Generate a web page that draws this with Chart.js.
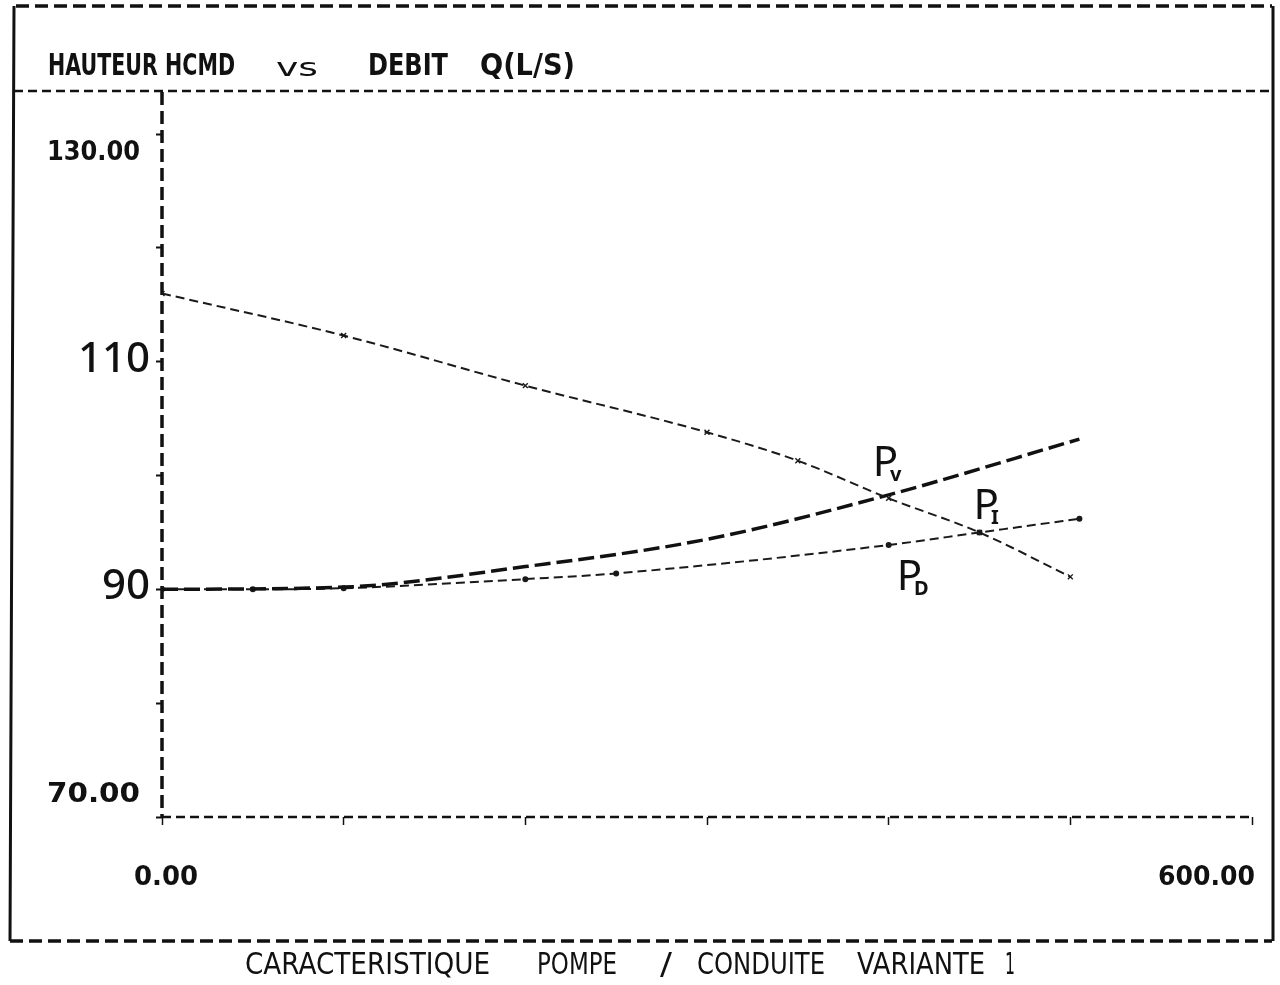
<!DOCTYPE html>
<html>
<head>
<meta charset="utf-8">
<script src="https://cdn.jsdelivr.net/npm/chart.js@4/dist/chart.umd.min.js"></script>
<style>
  html, body { margin: 0; padding: 0; background: #fff; }
  #wrap { width: 1280px; height: 985px; position: relative; }
</style>
</head>
<body>
<div id="wrap"><canvas id="myChart" width="1280" height="985"></canvas></div>
<script>
// debit Q (L/s) and hauteur HMT (m)
const flowPump = [0, 100, 200, 300, 350, 400, 450, 500]
const headPump = [116.0, 112.3, 107.9, 103.8, 101.3, 98.0, 95.0, 91.1]

const flowPv = [0, 100, 200, 300, 400, 505]
const headPv = [90.0, 90.2, 92.0, 94.4, 98.3, 103.2]

const flowPd = [0, 50, 100, 200, 250, 400, 450, 505]
const headPd = [90.0, 90.0, 90.1, 90.9, 91.4, 93.9, 95.0, 96.2]

const xTicks = [0, 100, 200, 300, 400, 500, 600]
const yTicks = [70, 80, 90, 100, 110, 120, 130]
const xLabels = [{ v: 0, text: '0.00' }, { v: 600, text: '600.00' }]
const yLabels = [
  { v: 130, text: '130.00', hand: false },
  { v: 110, text: '110', hand: true },
  { v: 90, text: '90', hand: true },
  { v: 70, text: '70.00', hand: false }
]
const pointLabels = [
  { x: 400, y: 98.3, main: 'P', sub: 'v' },
  { x: 450, y: 95.0, main: 'P', sub: 'I' },
  { x: 400, y: 93.9, main: 'P', sub: 'D' }
]

const titleParts = [['HAUTEUR HCMD', 48, 235], ['vs', 276, 318], ['DEBIT', 368, 448], ['Q(L/S)', 480, 575]]
const captionParts = [['CARACTERISTIQUE', 245, 490], ['POMPE', 537, 617], ['/', 660, 672], ['CONDUITE', 697, 825], ['VARIANTE', 857, 985], ['1', 1005, 1015]]

const pts = (xs, ys) => xs.map((x, i) => ({ x: x, y: ys[i] }))

const PRINT = '"Liberation Sans Narrow", "DejaVu Sans Condensed", sans-serif'
const HAND = '"Noto Sans", "DejaVu Sans", sans-serif'

// draws a word stretched to fit between x0 and x1
function fitText(ctx, txt, x0, x1, yc, size, weight) {
  ctx.save()
  ctx.font = (weight || 'normal') + ' ' + size + 'px ' + PRINT
  const w = ctx.measureText(txt).width
  ctx.translate(x0, yc)
  ctx.scale((x1 - x0) / w, 1)
  ctx.textAlign = 'left'
  ctx.textBaseline = 'middle'
  ctx.fillText(txt, 0, 0)
  ctx.restore()
}

const framePlugin = {
  id: 'frame',
  beforeDraw(chart) {
    const ctx = chart.ctx
    ctx.save()
    ctx.strokeStyle = '#111'
    // solid sides
    ctx.lineWidth = 3
    ctx.beginPath()
    ctx.moveTo(14, 6)
    ctx.lineTo(10, 941)
    ctx.moveTo(1273, 6)
    ctx.lineTo(1273, 941)
    ctx.stroke()
    // dashed top, bottom and title separator
    ctx.lineWidth = 3.5
    ctx.setLineDash([13, 6])
    ctx.beginPath()
    ctx.moveTo(16, 6)
    ctx.lineTo(1272, 6)
    ctx.moveTo(10, 941)
    ctx.lineTo(1272, 941)
    ctx.stroke()
    ctx.lineWidth = 2.5
    ctx.setLineDash([9, 5])
    ctx.beginPath()
    ctx.moveTo(14, 91)
    ctx.lineTo(1272, 91)
    ctx.stroke()

    // dashed axis lines
    const xs = chart.scales.x
    const ys = chart.scales.y
    ctx.lineWidth = 2.5
    ctx.setLineDash([9, 5])
    ctx.beginPath()
    ctx.moveTo(xs.left, ys.bottom)
    ctx.lineTo(xs.right, ys.bottom)
    ctx.stroke()
    ctx.lineWidth = 3.5
    ctx.setLineDash([13, 6])
    ctx.beginPath()
    ctx.moveTo(xs.left, ys.top)
    ctx.lineTo(xs.left, ys.bottom)
    ctx.stroke()
    ctx.restore()
  },
  afterDraw(chart) {
    const ctx = chart.ctx
    const xs = chart.scales.x
    const ys = chart.scales.y
    ctx.save()
    ctx.fillStyle = '#111'
    titleParts.forEach(p => {
      if (p[0] === 'vs') fitText(ctx, p[0], p[1], p[2], 70, 24, 'normal')
      else fitText(ctx, p[0], p[1], p[2], 67, 30, 'bold')
    })
    captionParts.forEach(p => fitText(ctx, p[0], p[1], p[2], 966, 30))

    // x tick labels
    xLabels.forEach((l, i) => {
      const px = xs.getPixelForValue(l.v)
      if (i === 0) fitText(ctx, l.text, px - 28, px + 36, 878, 26, 'bold')
      else fitText(ctx, l.text, px - 94, px + 3, 878, 26, 'bold')
    })

    // y tick labels
    yLabels.forEach(l => {
      const py = ys.getPixelForValue(l.v)
      if (l.hand) {
        ctx.font = '500 42px ' + HAND
        ctx.textAlign = 'right'
        ctx.textBaseline = 'middle'
        ctx.fillText(l.text, ys.left - 6, py - 2)
      } else {
        const dy = l.v > 100 ? 19 : -22
        fitText(ctx, l.text, 47, 140, py + dy, 26, 'bold')
      }
    })

    // operating point labels
    pointLabels.forEach(l => {
      const px = xs.getPixelForValue(l.x)
      const py = ys.getPixelForValue(l.y)
      let ox, oy
      if (l.sub === 'v') { ox = -16; oy = -52 }
      else if (l.sub === 'I') { ox = -6; oy = -46 }
      else { ox = 8; oy = 12 }
      ctx.font = '42px ' + HAND
      ctx.textAlign = 'left'
      ctx.textBaseline = 'top'
      ctx.fillText(l.main, px + ox, py + oy)
      const w = ctx.measureText(l.main).width
      ctx.font = 'bold 20px ' + HAND
      ctx.fillText(l.sub, px + ox + w - 8, py + oy + 22)
    })
    ctx.restore()
  }
}

const ctx = document.getElementById('myChart')
const myChart = new Chart(ctx, {
  type: 'line',
  data: {
    datasets: [
      {
        label: 'Pompe',
        data: pts(flowPump, headPump),
        borderColor: '#1a1a1a',
        borderWidth: 2,
        borderDash: [9, 5],
        pointStyle: 'crossRot',
        pointRadius: 3.5,
        pointBorderWidth: 1.4,
        pointBorderColor: '#1a1a1a',
        cubicInterpolationMode: 'monotone',
        fill: false
      },
      {
        label: 'Conduite Pv',
        data: pts(flowPv, headPv),
        borderColor: '#111',
        borderWidth: 3.5,
        borderDash: [16, 6],
        pointRadius: 0,
        cubicInterpolationMode: 'monotone',
        fill: false
      },
      {
        label: 'Conduite Pd',
        data: pts(flowPd, headPd),
        borderColor: '#1a1a1a',
        borderWidth: 2,
        borderDash: [9, 5],
        pointRadius: 2,
        pointBackgroundColor: '#1a1a1a',
        pointBorderColor: '#1a1a1a',
        cubicInterpolationMode: 'monotone',
        fill: false
      }
    ]
  },
  options: {
    responsive: false,
    animation: false,
    layout: { padding: { left: 156, top: 92, right: 28, bottom: 160 } },
    plugins: { legend: { display: false }, tooltip: { enabled: false } },
    scales: {
      x: {
        type: 'linear',
        min: 0,
        max: 600,
        afterBuildTicks: axis => { axis.ticks = xTicks.map(v => ({ value: v })) },
        ticks: { display: false },
        grid: { drawOnChartArea: false, drawTicks: true, tickLength: 8, color: '#111', tickWidth: 1.5 },
        border: { display: false }
      },
      y: {
        type: 'linear',
        min: 70,
        max: 133.7,
        afterBuildTicks: axis => { axis.ticks = yTicks.map(v => ({ value: v })) },
        ticks: { display: false },
        grid: { drawOnChartArea: false, drawTicks: true, tickLength: 6, color: '#111', tickWidth: 2 },
        border: { display: false }
      }
    }
  },
  plugins: [framePlugin]
})
</script>
</body>
</html>
